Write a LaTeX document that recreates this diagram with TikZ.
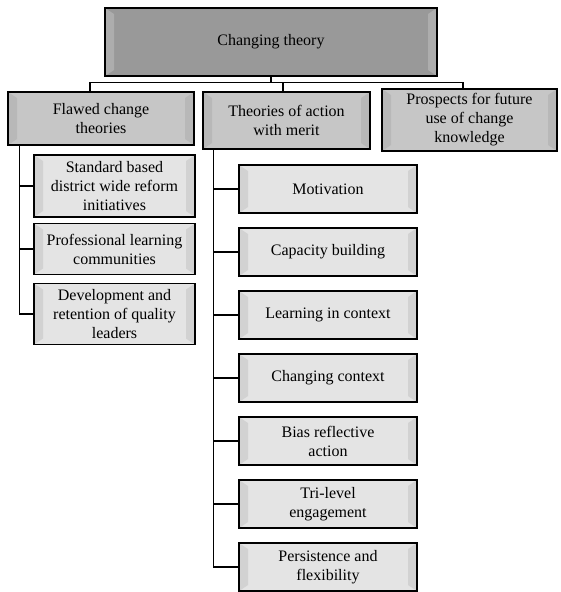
\documentclass[tikz,border=0pt]{standalone}
\usepackage{fontspec}
\setmainfont{Liberation Serif}
\newcommand\fnt{\fontsize{16}{19}\selectfont}
\definecolor{lvA}{HTML}{999999}
\definecolor{lvAs}{HTML}{ADADAD}
\definecolor{lvB}{HTML}{C6C6C6}
\definecolor{lvBs}{HTML}{B8B8B8}
\definecolor{lvC}{HTML}{E4E4E4}
\definecolor{lvCs}{HTML}{D2D2D2}
\tikzset{
  bx/.style 2 args={draw=black, line width=1.4pt, fill=#1, inner sep=0pt, align=center, font=\fnt,
    path picture={
      \fill[#2] (path picture bounding box.north west) -- ([xshift=9pt,yshift=-6pt]path picture bounding box.north west)
        -- ([xshift=9pt,yshift=6pt]path picture bounding box.south west) -- (path picture bounding box.south west) -- cycle;
      \fill[#2] (path picture bounding box.north east) -- ([xshift=-9pt,yshift=-6pt]path picture bounding box.north east)
        -- ([xshift=-9pt,yshift=6pt]path picture bounding box.south east) -- (path picture bounding box.south east) -- cycle;
    }},
  boxA/.style={bx={lvA}{lvAs}},
  boxB/.style={bx={lvB}{lvBs}},
  boxC/.style={bx={lvC}{lvCs}},
  conn/.style={draw=black, line width=1.4pt},
}
\begin{document}
\begin{tikzpicture}[x=1pt,y=-1pt]
\useasboundingbox (0,0) rectangle (560,592);
\node[boxA, minimum width=332pt, minimum height=68pt] (top) at (271,42) {Changing theory};
\node[boxB, minimum width=186pt, minimum height=53pt] (flawed) at (101,118.5) {Flawed change\\theories};
\node[boxB, minimum width=167pt, minimum height=57pt] (theo) at (286.5,120.5) {Theories of action\\with merit};
\node[boxB, minimum width=175pt, minimum height=62pt] (pros) at (469.5,120) {Prospects for future\\use of change\\knowledge};

\node[boxC, minimum width=161pt, minimum height=62pt] (f1) at (114.5,186) {Standard based\\district wide reform\\initiatives};
\node[boxC, minimum width=161pt, minimum height=51pt] (f2) at (114.5,249) {Professional learning\\communities};
\node[boxC, minimum width=161pt, minimum height=61pt] (f3) at (114.5,314) {Development and\\retention of quality\\leaders};

\node[boxC, minimum width=178pt, minimum height=48pt] (t1) at (328,189) {Motivation};
\node[boxC, minimum width=178pt, minimum height=48pt] (t2) at (328,252) {Capacity building};
\node[boxC, minimum width=178pt, minimum height=48pt] (t3) at (328,315) {Learning in context};
\node[boxC, minimum width=178pt, minimum height=48pt] (t4) at (328,378) {Changing context};
\node[boxC, minimum width=178pt, minimum height=48pt] (t5) at (328,441) {Bias reflective\\action};
\node[boxC, minimum width=178pt, minimum height=48pt] (t6) at (328,504) {Tri-level\\engagement};
\node[boxC, minimum width=178pt, minimum height=48pt] (t7) at (328,567) {Persistence and\\flexibility};

% top bus
\coordinate (bus) at ([yshift=-6pt]top.south);
\coordinate (fj) at ([xshift=-11pt]flawed.north);
\coordinate (tj) at ([xshift=-3.5pt]theo.north);
\coordinate (pj) at ([xshift=-6.5pt]pros.north);
\draw[conn] (top.south) -- (bus);
\draw[conn] (fj) |- (bus) -| (pj);
\draw[conn] (tj) -- (tj |- bus);

% left branch
\coordinate (lv) at ([xshift=12pt]flawed.south west);
\draw[conn] (lv) |- (f3.west);
\draw[conn] (lv |- f1.west) -- (f1.west);
\draw[conn] (lv |- f2.west) -- (f2.west);

% right branch
\coordinate (rv) at ([xshift=11pt]theo.south west);
\draw[conn] (rv) |- (t7.west);
\foreach \n in {t1,t2,t3,t4,t5,t6}{\draw[conn] (rv |- \n.west) -- (\n.west);}
\end{tikzpicture}
\end{document}
